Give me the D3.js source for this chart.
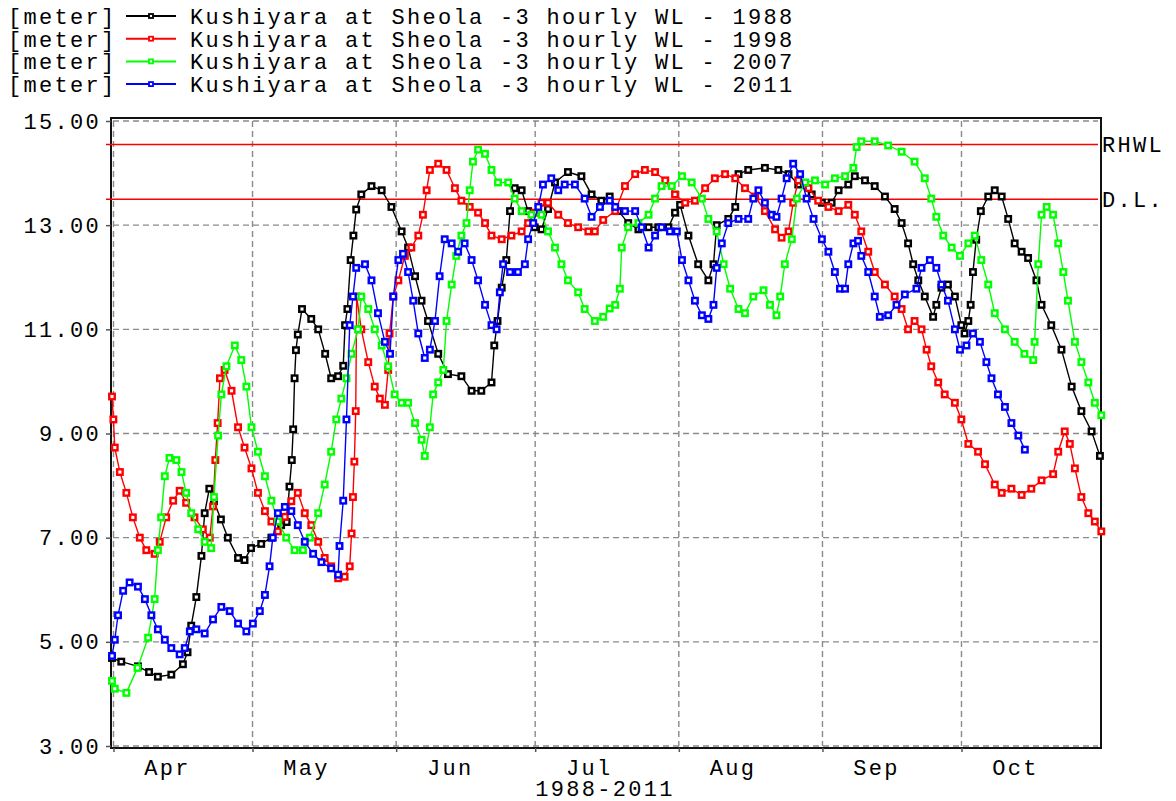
<!DOCTYPE html>
<html><head><meta charset="utf-8">
<script src="https://cdn.jsdelivr.net/npm/d3@7"></script>
<style>body{margin:0;background:#fff}svg{display:block}text{font-family:"Liberation Mono","DejaVu Sans Mono",monospace;font-size:22px;letter-spacing:2.3px;fill:#000}</style>
</head><body>
<script>
// ---- data: [day offset from 1 April, water level in meter] ----
const seriesNames = ["1988","1998","2007","2011"];
const seriesColors = ["#000000","#ff0000","#00ff00","#0000ff"];
const legendLabel = "Kushiyara at Sheola -3 hourly WL - ";
const yTicks = [3,5,7,9,11,13,15];
const monthNames = ["Apr","May","Jun","Jul","Aug","Sep","Oct"];
const refLines = [{name:"RHWL", value:14.55},{name:"D.L.", value:13.5}];
const xTitle = "1988-2011";

const wl1988 = [[0,4.69],[2,4.62],[5.6,4.53],[8,4.42],[9.9,4.33],[12.8,4.37],[15.3,4.57],[16.3,4.8],[17.1,5.31],[18.2,5.86],[19.3,6.65],[20,7.47],[21,7.94],[22,7.7],[23.5,7.35],[25,7.0],[27.2,6.61],[28.6,6.57],[30,6.8],[32.2,6.88],[34.4,7.0],[36.5,7.24],[37.7,7.3],[38.3,7.98],[38.8,8.49],[39.1,9.08],[39.4,10.06],[39.7,10.6],[40.1,10.9],[41,11.39],[43,11.2],[44.5,11.0],[46,10.53],[47.3,10.06],[48.8,10.1],[49.9,10.3],[50.3,11.08],[50.8,11.39],[51.5,12.33],[52.1,12.8],[52.7,13.3],[53.8,13.59],[56,13.75],[58.2,13.67],[60.3,13.35],[62.5,12.88],[63.9,12.57],[65.4,12.02],[66.8,11.55],[68.2,11.16],[70.4,10.53],[72.5,10.14],[75.4,10.1],[77.6,9.82],[79.7,9.82],[81.9,9.98],[82.5,10.69],[83.2,11.16],[84.1,11.8],[85.1,12.33],[85.9,13.27],[86.9,13.71],[88.4,13.67],[89.8,13.27],[91.2,12.96],[92.7,12.92],[94.1,13.31],[95.6,13.82],[98.4,14.02],[101.3,13.94],[103.5,13.59],[105.6,13.47],[107.4,13.55],[109.3,13.27],[111.4,13.04],[113.6,12.92],[115.8,12.96],[117.9,12.96],[120.1,12.96],[121.5,13.24],[122.6,13.39],[124.4,12.8],[126.5,12.25],[128.7,11.94],[129.8,12.25],[130.5,13.0],[133,13.12],[134.5,13.35],[135.2,13.98],[137.3,14.06],[140.9,14.1],[143.8,14.06],[146,13.98],[148.1,13.78],[151,13.59],[153.2,13.43],[155.3,13.43],[156.8,13.67],[158.9,13.78],[160.3,13.94],[162.5,13.86],[164.6,13.75],[166.8,13.55],[168.9,13.31],[170.4,13.04],[171.8,12.65],[172.9,12.25],[174,11.94],[175.4,11.63],[177.2,11.24],[177.9,11.47],[179,11.8],[180.4,11.86],[181.9,11.63],[183.3,11.08],[184,10.92],[184.8,11.16],[185.3,11.47],[185.8,12.1],[186.5,12.72],[187.5,13.27],[189.1,13.55],[190.5,13.67],[192,13.55],[193.4,13.12],[194.8,12.65],[196.3,12.49],[197.7,12.37],[199.5,11.94],[200.6,11.47],[202.7,11.08],[204.9,10.61],[207.1,9.9],[209.2,9.43],[211.4,9.04],[213.2,8.57]];

const wl1998 = [[0,9.71],[0.3,9.27],[0.6,8.73],[1.7,8.26],[3.1,7.86],[4.5,7.39],[6,7.0],[7.4,6.76],[9.2,6.69],[10.3,6.92],[11.7,7.39],[13.2,7.71],[14.6,7.9],[16,7.67],[17.8,7.39],[19.6,7.16],[21.1,7.0],[21.8,7.6],[22.3,8.49],[22.8,9.2],[23.3,10.06],[24.3,10.22],[25.8,9.82],[27.2,9.12],[28.6,8.73],[30.1,8.33],[31.5,7.86],[33,7.51],[34.4,7.31],[35.8,7.12],[37.3,7.4],[38.7,7.7],[40.1,7.86],[41.6,7.47],[43,7.24],[44.5,6.92],[45.9,6.61],[47.3,6.45],[48.8,6.22],[50.2,6.25],[51.3,6.45],[51.7,7.08],[52.0,7.78],[52.3,8.46],[52.6,9.43],[52.8,11.63],[53.8,11.0],[55.3,10.37],[56.7,9.9],[57.8,9.67],[58.9,9.55],[59.6,10.22],[59.9,10.92],[60.7,11.63],[61.8,11.94],[63.2,12.41],[64.6,12.57],[66.1,12.8],[67.1,13.2],[67.9,13.67],[68.6,14.06],[70.4,14.18],[72.2,14.06],[74,13.71],[75.4,13.47],[77.2,13.35],[79,13.24],[80.5,13.04],[81.9,12.8],[84.1,12.73],[86.2,12.8],[88.4,12.88],[89.8,13.04],[91.2,13.24],[92.7,13.43],[94.1,13.43],[96.3,13.2],[98.4,13.04],[100.6,12.96],[102.8,12.88],[104.2,12.88],[106,13.1],[108.6,13.27],[110.7,13.75],[112.9,13.98],[115,14.06],[117.2,14.02],[119.4,13.86],[121.5,13.59],[123.7,13.43],[125.8,13.47],[128,13.71],[130.1,13.9],[132.3,13.98],[134.5,13.9],[136.6,13.71],[138.8,13.55],[140.9,13.27],[143.1,12.92],[144.5,12.76],[146,12.88],[147,13.43],[148.1,13.86],[150.3,13.71],[152.4,13.47],[154.6,13.35],[156.8,13.27],[158.9,13.39],[160.3,13.2],[161.7,12.88],[163.2,12.49],[164.6,12.1],[166.8,11.86],[168.9,11.63],[170.4,11.39],[171.8,11.0],[173.2,11.16],[174.7,11.0],[175.8,10.61],[176.8,10.29],[178.3,9.98],[179.7,9.75],[181.9,9.59],[183.3,9.27],[184.8,8.8],[186.9,8.65],[188.4,8.41],[190.5,8.02],[192,7.86],[194.1,7.94],[196.3,7.82],[198.4,7.94],[200.6,8.1],[203.1,8.22],[204.2,8.65],[205.6,9.04],[206.7,8.8],[207.8,8.33],[209.2,7.78],[210.7,7.47],[212.1,7.31],[213.5,7.12]];

const wl2007 = [[0,4.25],[0.6,4.1],[3.1,4.02],[5.5,4.5],[7.8,5.08],[9.2,5.82],[9.9,6.76],[10.6,7.39],[11.4,8.18],[12.4,8.53],[13.9,8.49],[15,8.26],[16,7.86],[17.1,7.47],[18.6,7.16],[20,6.92],[21.4,6.8],[22,7.78],[22.9,8.96],[23.6,9.75],[24.7,10.29],[26.5,10.69],[27.9,10.41],[29,9.9],[30.1,9.12],[31.5,8.65],[33,8.18],[34.4,7.71],[35.8,7.31],[37.6,7.0],[39.4,6.76],[41.2,6.76],[42.7,7.0],[44.5,7.47],[45.9,8.02],[47.3,8.65],[48.4,9.27],[49.5,9.67],[50.6,10.06],[51.7,10.53],[53.1,11.0],[53.8,11.63],[55.3,11.39],[56.7,11.0],[58.2,10.69],[59.6,10.29],[61,9.75],[62.5,9.59],[63.9,9.59],[65.4,9.2],[66.8,8.88],[67.5,8.57],[68.6,9.12],[69.3,9.75],[70.4,9.98],[71.5,10.22],[72.2,11.16],[73.3,11.86],[74.3,12.41],[75.4,12.8],[76.5,13.04],[77.2,13.67],[77.9,14.22],[79,14.45],[80.5,14.37],[81.9,14.06],[83.3,13.82],[85.5,13.82],[86.9,13.51],[88.4,13.27],[90.5,13.2],[92.7,13.2],[94.1,12.88],[95.6,12.57],[97,12.25],[98.4,11.94],[100.6,11.71],[102,11.39],[104.2,11.16],[106,11.24],[107.4,11.4],[108.6,11.47],[109.6,11.78],[110,12.57],[111.4,12.96],[113.6,13.04],[115.8,13.2],[117.2,13.51],[118.6,13.75],[120.8,13.75],[123,13.94],[125.1,13.82],[127.3,13.51],[128.7,13.12],[130.5,12.88],[132,12.25],[133.4,11.78],[135.2,11.39],[136.6,11.31],[138.4,11.63],[140.6,11.75],[142,11.47],[143.4,11.27],[144.2,11.63],[145.2,12.25],[146.7,12.73],[147.8,13.51],[149.6,13.82],[151.7,13.86],[153.9,13.78],[156,13.9],[158.2,13.94],[160,14.1],[160.7,14.5],[161.7,14.61],[164.6,14.61],[167.5,14.53],[170.4,14.41],[173.2,14.22],[175.4,13.9],[176.8,13.51],[177.9,13.16],[179.4,12.8],[181.2,12.57],[183,12.41],[184.8,12.65],[186.2,12.8],[187.6,12.33],[189.1,11.86],[190.5,11.31],[192.7,11.0],[194.8,10.76],[196.9,10.53],[198.8,10.41],[199.1,10.76],[199.9,12.25],[200.6,13.2],[201.7,13.35],[203.1,13.2],[204.2,12.65],[205.3,12.1],[206.3,11.55],[207.8,10.76],[209.2,10.37],[210.7,9.98],[212.1,9.59],[213.5,9.35]];

const wl2011 = [[0,4.73],[0.6,5.04],[1.3,5.51],[2.4,5.98],[3.8,6.14],[5.6,6.06],[7.1,5.82],[8.5,5.51],[9.9,5.24],[11.4,5.04],[12.8,4.88],[14.6,4.76],[15.7,4.88],[16.8,5.2],[18.2,5.24],[20,5.16],[21.8,5.43],[23.6,5.67],[25.4,5.59],[27.2,5.35],[29,5.2],[30.4,5.35],[31.9,5.59],[33,5.9],[34,6.45],[34.7,7.0],[35.8,7.47],[37.3,7.59],[38.7,7.51],[40.1,7.24],[41.6,6.92],[43.4,6.69],[45.2,6.53],[47.3,6.41],[48.8,6.29],[49.1,6.84],[49.9,7.71],[50.6,9.27],[51.3,11.08],[52,11.63],[52.7,12.18],[54.6,12.25],[56,11.94],[57.4,11.31],[58.9,10.76],[60,10.53],[60.7,11.63],[61.8,12.33],[62.8,12.45],[63.9,12.1],[65,11.55],[66.1,10.92],[67.5,10.45],[68.6,10.61],[69.7,11.16],[70.7,12.02],[71.8,12.73],[73.3,12.65],[74.7,12.49],[76.1,12.65],[77.6,12.33],[79,11.94],[80.5,11.47],[81.9,11.08],[83,11.0],[83.7,11.71],[84.4,12.25],[85.9,12.1],[87.6,12.1],[89.1,12.25],[89.8,12.73],[90.9,13.04],[92,13.35],[93,13.78],[94.8,13.9],[96.3,13.67],[97.7,13.78],[99.9,13.78],[102,13.51],[103.5,13.16],[105.3,13.35],[107.4,13.47],[108.6,13.35],[110.7,13.27],[112.9,13.27],[114.3,12.96],[115.8,12.57],[117.2,12.8],[118.6,12.96],[120.4,12.88],[121.9,12.88],[123,12.33],[124.4,11.94],[125.8,11.55],[127.3,11.27],[128.7,11.2],[129.8,11.47],[130.5,12.18],[131.6,12.65],[133,13.04],[135.2,13.12],[137.3,13.12],[138.4,13.51],[139.5,13.67],[140.9,13.43],[142.4,13.2],[143.4,13.16],[144.5,13.51],[145.6,13.9],[147,14.18],[148.5,13.98],[149.9,13.51],[151.4,13.12],[153.2,12.73],[154.6,12.49],[156,12.1],[157.1,11.78],[158.2,11.78],[158.9,12.25],[160,12.65],[161,12.7],[161.7,12.41],[163.2,12.1],[164.6,11.63],[165.7,11.24],[167.5,11.27],[169.3,11.47],[171.1,11.67],[173.6,11.78],[174.7,12.18],[176.5,12.33],[177.9,12.18],[179,11.86],[180.4,11.55],[181.9,11.0],[183,10.61],[184.4,10.69],[185.8,10.92],[187.3,10.76],[188.7,10.37],[189.8,10.06],[191.2,9.75],[192.7,9.51],[194.1,9.2],[195.6,8.96],[197,8.69]];

const allSeries = [wl1988, wl1998, wl2007, wl2011];

// ---- drawing ----
const W = 1176, H = 801;
const svg = d3.select("body").append("svg").attr("width", W).attr("height", H);
const start = new Date(2001, 3, 1), end = new Date(2001, 9, 31);
const dayMs = 86400000;
const toDate = d => new Date(start.getTime() + d * dayMs);
const x = d3.scaleTime().domain([start, end]).range([112, 1099]);
const y = d3.scaleLinear().domain([3, 15]).range([746, 121]);
const monthStarts = d3.timeMonth.range(start, end);

// grid
const grid = svg.append("g").attr("stroke", "#8a8a8a").attr("stroke-width", 1.4).attr("stroke-dasharray", "6,4");
grid.selectAll("line.h").data(yTicks).join("line")
  .attr("x1", 113).attr("x2", 1098).attr("y1", d => y(d)).attr("y2", d => y(d));
grid.selectAll("line.v").data(monthStarts).join("line")
  .attr("x1", d => x(d) + 1.5).attr("x2", d => x(d) + 1.5).attr("y1", 121).attr("y2", 746);

// frame
svg.append("rect").attr("x", 111).attr("y", 118).attr("width", 990).attr("height", 630)
  .attr("fill", "none").attr("stroke", "#111").attr("stroke-width", 2);

// y axis
const yAxis = svg.append("g").attr("transform", "translate(111,0)")
  .call(d3.axisLeft(y).tickValues(yTicks).tickSize(5).tickPadding(5).tickFormat(d3.format(".2f")));
yAxis.select(".domain").remove();
yAxis.selectAll(".tick line").attr("stroke", "#555").attr("stroke-width", 1.5);
yAxis.selectAll("text").attr("font-family", null).attr("font-size", null).attr("fill", "#111");

// x axis ticks
const xAxis = svg.append("g").attr("transform", "translate(0,748)")
  .call(d3.axisBottom(x).tickValues(monthStarts).tickSize(4).tickFormat(""));
xAxis.select(".domain").remove();
xAxis.selectAll(".tick line").attr("stroke", "#555").attr("stroke-width", 1.5).attr("transform", "translate(1.5,0)");

// month labels
svg.append("g").selectAll("text").data(monthStarts).join("text")
  .attr("x", (d, i) => x(new Date(d.getTime() + 12 * dayMs)))
  .attr("y", 775).attr("text-anchor", "middle")
  .text((d, i) => monthNames[i]);
svg.append("text").attr("x", 605).attr("y", 796).attr("text-anchor", "middle").text(xTitle);

// reference lines
refLines.forEach(r => {
  svg.append("line").attr("x1", 106).attr("x2", 1098).attr("y1", y(r.value)).attr("y2", y(r.value))
    .attr("stroke", "#ff0000").attr("stroke-width", 1.5);
  svg.append("text").attr("x", 1102).attr("y", y(r.value) + 8).text(r.name);
});

// series
const line = d3.line().x(d => x(toDate(d[0]))).y(d => y(d[1]));
const ms = 5.5;
allSeries.forEach((s, i) => {
  const g = svg.append("g");
  g.append("path").datum(s).attr("d", line).attr("fill", "none")
    .attr("stroke", seriesColors[i]).attr("stroke-width", 1.4);
  g.selectAll("rect").data(s).join("rect")
    .attr("x", d => x(toDate(d[0])) - ms / 2).attr("y", d => y(d[1]) - ms / 2)
    .attr("width", ms).attr("height", ms)
    .attr("fill", "#fff").attr("stroke", seriesColors[i]).attr("stroke-width", 2.4);
});

// legend
seriesNames.forEach((n, i) => {
  const cy = 16 + i * 22.7;
  svg.append("text").attr("x", 8).attr("y", cy + 8).text("[meter]");
  svg.append("line").attr("x1", 126).attr("x2", 176).attr("y1", cy).attr("y2", cy)
    .attr("stroke", seriesColors[i]).attr("stroke-width", 2);
  svg.append("rect").attr("x", 151 - 4 / 2).attr("y", cy - 4 / 2).attr("width", 4).attr("height", 4)
    .attr("fill", "#fff").attr("stroke", seriesColors[i]).attr("stroke-width", 1.8);
  svg.append("text").attr("x", 190).attr("y", cy + 8).text(legendLabel + n);
});
</script>
</body></html>
